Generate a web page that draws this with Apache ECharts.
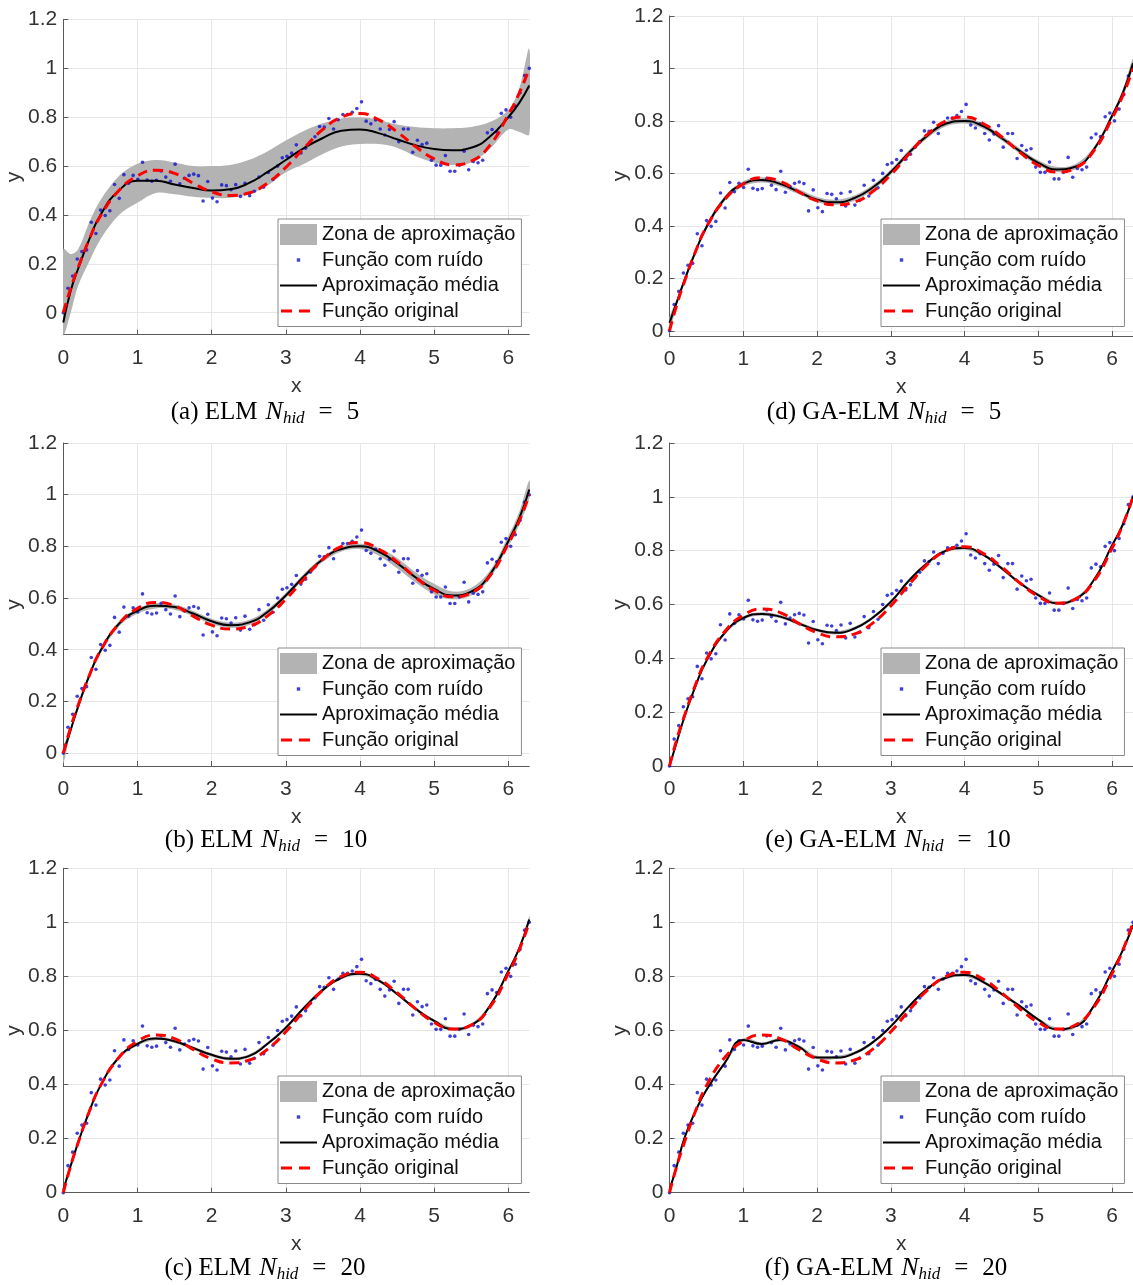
<!DOCTYPE html>
<html><head><meta charset="utf-8">
<script src="https://cdn.jsdelivr.net/npm/echarts@6/dist/echarts.min.js"></script>
<style>html,body{margin:0;padding:0;background:#fff}#c{width:1133px;height:1285px}</style>
</head><body><div id="c"></div>
<script>
// ---------- DATA ----------
const X_NOISE = [0,0.063,0.126,0.188,0.251,0.314,0.377,0.44,0.503,0.565,0.628,0.691,0.754,0.817,0.88,0.942,1.005,1.068,1.131,1.194,1.257,1.319,1.382,1.445,1.508,1.571,1.634,1.696,1.759,1.822,1.885,1.948,2.011,2.073,2.136,2.199,2.262,2.325,2.388,2.45,2.513,2.576,2.639,2.702,2.765,2.827,2.89,2.953,3.016,3.079,3.142,3.204,3.267,3.33,3.393,3.456,3.519,3.581,3.644,3.707,3.77,3.833,3.896,3.958,4.021,4.084,4.147,4.21,4.273,4.335,4.398,4.461,4.524,4.587,4.65,4.712,4.775,4.838,4.901,4.964,5.027,5.089,5.152,5.215,5.278,5.341,5.404,5.466,5.529,5.592,5.655,5.718,5.781,5.843,5.906,5.969,6.032,6.095,6.158,6.22,6.283];
const Y_NOISE = [0.00,0.10,0.15,0.22,0.25,0.257,0.37,0.324,0.42,0.398,0.417,0.525,0.468,0.565,0.53,0.562,0.546,0.616,0.543,0.538,0.542,0.58,0.555,0.538,0.608,0.528,0.55,0.562,0.567,0.561,0.457,0.537,0.469,0.454,0.523,0.52,0.503,0.524,0.476,0.53,0.479,0.497,0.555,0.514,0.574,0.545,0.60,0.634,0.64,0.653,0.687,0.654,0.673,0.70,0.72,0.762,0.76,0.795,0.752,0.79,0.811,0.811,0.82,0.836,0.863,0.784,0.773,0.789,0.752,0.727,0.75,0.782,0.70,0.752,0.752,0.657,0.706,0.688,0.694,0.624,0.604,0.604,0.643,0.579,0.579,0.604,0.661,0.585,0.619,0.614,0.624,0.736,0.75,0.74,0.816,0.83,0.80,0.845,0.90,0.971,1.00];

const X_CURVE = [0,0.1,0.2,0.35,0.5,0.75,1,1.25,1.5,1.75,2,2.25,2.5,2.75,3,3.25,3.5,3.75,4,4.25,4.5,4.75,5,5.25,5.5,5.75,6,6.15,6.283];
const Y_ORIGINAL = [0.00,0.10,0.185,0.30,0.395,0.50,0.56,0.583,0.57,0.53,0.495,0.48,0.49,0.53,0.595,0.675,0.75,0.80,0.815,0.79,0.74,0.68,0.63,0.605,0.62,0.685,0.81,0.90,1.00];

const MEAN_A = [-0.04,0.09,0.18,0.30,0.40,0.50,0.54,0.54,0.525,0.51,0.50,0.505,0.53,0.575,0.625,0.675,0.715,0.745,0.75,0.735,0.71,0.685,0.67,0.665,0.675,0.72,0.80,0.86,0.93];
const LOW_A  = [-0.09,0.00,0.11,0.21,0.30,0.40,0.45,0.49,0.485,0.475,0.47,0.47,0.485,0.52,0.575,0.61,0.65,0.68,0.69,0.69,0.675,0.64,0.615,0.605,0.615,0.67,0.75,0.74,0.73];
const UP_A   = [0.26,0.24,0.26,0.37,0.46,0.56,0.61,0.625,0.615,0.60,0.60,0.605,0.625,0.66,0.705,0.745,0.775,0.795,0.80,0.79,0.77,0.76,0.755,0.755,0.76,0.78,0.83,0.92,1.08];

const MEAN_B = [0.00,0.09,0.18,0.30,0.395,0.50,0.55,0.57,0.565,0.54,0.51,0.495,0.505,0.545,0.61,0.685,0.75,0.79,0.80,0.78,0.735,0.68,0.635,0.61,0.625,0.69,0.82,0.91,1.02];
const LOW_B  = [-0.04,0.08,0.17,0.29,0.385,0.49,0.54,0.56,0.555,0.53,0.50,0.485,0.495,0.535,0.60,0.675,0.74,0.78,0.79,0.765,0.715,0.66,0.615,0.595,0.61,0.675,0.80,0.885,0.985];
const UP_B   = [0.02,0.10,0.19,0.31,0.405,0.51,0.56,0.58,0.575,0.55,0.52,0.505,0.515,0.555,0.62,0.695,0.76,0.80,0.81,0.795,0.755,0.70,0.655,0.625,0.64,0.705,0.84,0.935,1.055];

const MEAN_C = [0.01,0.10,0.185,0.30,0.395,0.50,0.55,0.57,0.56,0.535,0.51,0.495,0.505,0.55,0.61,0.685,0.75,0.795,0.81,0.785,0.735,0.68,0.635,0.605,0.62,0.69,0.82,0.905,1.01];
const LOW_C  = [0.00,0.094,0.179,0.294,0.389,0.494,0.544,0.564,0.554,0.529,0.504,0.489,0.499,0.544,0.604,0.679,0.744,0.789,0.804,0.779,0.729,0.674,0.629,0.599,0.614,0.684,0.814,0.897,0.998];
const UP_C   = [0.02,0.106,0.191,0.306,0.401,0.506,0.556,0.576,0.566,0.541,0.516,0.501,0.511,0.556,0.616,0.691,0.756,0.801,0.816,0.791,0.741,0.686,0.641,0.611,0.626,0.696,0.826,0.913,1.022];

const MEAN_D = [0.03,0.11,0.19,0.30,0.395,0.505,0.56,0.575,0.56,0.53,0.50,0.49,0.505,0.545,0.605,0.68,0.745,0.79,0.80,0.78,0.735,0.685,0.64,0.615,0.625,0.69,0.82,0.91,1.02];
const LOW_D  = [-0.01,0.10,0.18,0.29,0.385,0.495,0.55,0.565,0.55,0.52,0.49,0.48,0.495,0.535,0.595,0.67,0.735,0.78,0.79,0.77,0.725,0.675,0.63,0.605,0.615,0.68,0.81,0.895,1.00];
const UP_D   = [0.05,0.12,0.20,0.31,0.405,0.515,0.57,0.585,0.57,0.54,0.51,0.50,0.515,0.555,0.615,0.69,0.755,0.80,0.81,0.79,0.745,0.695,0.65,0.625,0.635,0.70,0.83,0.925,1.04];

const MEAN_E = [0.00,0.09,0.18,0.295,0.39,0.495,0.55,0.565,0.555,0.53,0.505,0.495,0.51,0.55,0.61,0.69,0.755,0.80,0.81,0.785,0.735,0.68,0.635,0.605,0.62,0.69,0.82,0.90,1.00];
const LOW_E  = [0.00,0.084,0.174,0.289,0.384,0.489,0.544,0.559,0.549,0.524,0.499,0.489,0.504,0.544,0.604,0.684,0.749,0.794,0.804,0.779,0.729,0.674,0.629,0.599,0.614,0.684,0.814,0.893,0.99];
const UP_E   = [0.01,0.096,0.186,0.301,0.396,0.501,0.556,0.571,0.561,0.536,0.511,0.501,0.516,0.556,0.616,0.696,0.761,0.806,0.816,0.791,0.741,0.686,0.641,0.611,0.626,0.696,0.826,0.907,1.01];

const MEAN_F = [0.01,0.10,0.20,0.30,0.38,0.48,0.565,0.55,0.565,0.54,0.50,0.50,0.515,0.555,0.615,0.69,0.755,0.795,0.805,0.78,0.735,0.69,0.64,0.605,0.615,0.69,0.82,0.90,0.99];
const LOW_F  = [0.00,0.094,0.194,0.294,0.374,0.474,0.559,0.544,0.559,0.534,0.494,0.494,0.509,0.549,0.609,0.684,0.749,0.789,0.799,0.774,0.729,0.684,0.634,0.599,0.609,0.684,0.814,0.893,0.98];
const UP_F   = [0.02,0.106,0.206,0.306,0.386,0.486,0.571,0.556,0.571,0.546,0.506,0.506,0.521,0.561,0.621,0.696,0.761,0.801,0.811,0.786,0.741,0.696,0.646,0.611,0.621,0.696,0.826,0.907,1.0];

const CAPTION_TAGS = ['(a) ELM','(b) ELM','(c) ELM','(d) GA-ELM','(e) GA-ELM','(f) GA-ELM'];
const CAPTION_N = ['5','10','20','5','10','20'];
const LEGEND_NAMES = ['Zona de aproximação','Função com ruído','Aproximação média','Função original'];
const X_TICKS = [0,1,2,3,4,5,6];

// ---------- LAYOUT ----------
const LAYOUT = [
 {left:63.3, width:466,   top:19.5,  bottom:334.7,  yMin:-0.09, lgL:278, lgT:219,  capX:265, capY:412},
 {left:63.3, width:466,   top:443,   bottom:766,    yMin:-0.05, lgL:278, lgT:648,  capX:266, capY:840},
 {left:63.3, width:466,   top:868.2, bottom:1192.7, yMin:0,     lgL:278, lgT:1076, capX:265, capY:1268},
 {left:669.5,width:463.9, top:16,    bottom:336,    yMin:-0.02, lgL:881, lgT:219,  capX:884, capY:412},
 {left:669.5,width:463.9, top:443,   bottom:766,    yMin:0,     lgL:881, lgT:648,  capX:888, capY:840},
 {left:669.5,width:463.9, top:868.2, bottom:1192.7, yMin:0,     lgL:881, lgT:1076, capX:886, capY:1268}
];
const MEANS = [MEAN_A,MEAN_B,MEAN_C,MEAN_D,MEAN_E,MEAN_F];
const LOWS = [LOW_A,LOW_B,LOW_C,LOW_D,LOW_E,LOW_F];
const UPS = [UP_A,UP_B,UP_C,UP_D,UP_E,UP_F];

const FONT = 'Liberation Sans, Arial, Helvetica, sans-serif';
const SERIF = 'Liberation Serif, Times New Roman, serif';
const AXIS_COLOR = '#5a5a5a';
const TEXT_COLOR = '#333333';
const GRID_COLOR = '#e6e6e6';
const BAND_COLOR = '#b3b3b3';

const grids = [], xAxes = [], yAxes = [], series = [], legends = [], graphics = [];

LAYOUT.forEach((L, i) => {
  grids.push({left:L.left, top:L.top, width:L.width, height:L.bottom - L.top, containLabel:false});
  xAxes.push({
    type:'value', gridIndex:i, min:0, max:6.283185, interval:1,
    name:'x', nameLocation:'middle', nameGap:41,
    nameTextStyle:{fontFamily:FONT, fontSize:21, color:TEXT_COLOR},
    axisLine:{onZero:false, lineStyle:{color:AXIS_COLOR, width:1}},
    axisTick:{inside:true, length:5, lineStyle:{color:AXIS_COLOR}},
    axisLabel:{margin:13, fontFamily:FONT, fontSize:21, color:TEXT_COLOR, showMaxLabel:false,
      formatter: v => (X_TICKS.indexOf(Math.round(v)) >= 0 && Math.abs(v - Math.round(v)) < 1e-6) ? String(Math.round(v)) : ''},
    splitLine:{show:true, showMaxLine:false, lineStyle:{color:GRID_COLOR, width:1}}
  });
  yAxes.push({
    type:'value', gridIndex:i, min:L.yMin, max:1.2, splitNumber:6,
    name:'y', nameLocation:'middle', nameGap:38, nameRotate:90,
    nameTextStyle:{fontFamily:FONT, fontSize:21, color:TEXT_COLOR},
    axisLine:{show:true, onZero:false, lineStyle:{color:AXIS_COLOR, width:1}},
    axisTick:{show:true, inside:true, length:5, lineStyle:{color:AXIS_COLOR}},
    axisLabel:{margin:6, fontFamily:FONT, fontSize:21, color:TEXT_COLOR,
      formatter: v => { const r = Math.round(v * 5) / 5; return Math.abs(v - r) < 1e-6 ? String(+r.toFixed(1)) : ''; }},
    splitLine:{show:true, showMinLine:false, lineStyle:{color:GRID_COLOR, width:1}}
  });
  const low = LOWS[i], up = UPS[i];
  series.push({
    type:'custom', name:LEGEND_NAMES[0], xAxisIndex:i, yAxisIndex:i, clip:true, z:1, silent:true,
    itemStyle:{color:BAND_COLOR},
    data: X_CURVE.map((x, k) => [x, low[k], up[k]]),
    encode:{x:0, y:[1,2]},
    renderItem: (params, api) => {
      if (params.dataIndex !== 0) return null;
      const pts = [];
      for (let k = 0; k < X_CURVE.length; k++) pts.push(api.coord([X_CURVE[k], up[k]]));
      for (let k = X_CURVE.length - 1; k >= 0; k--) pts.push(api.coord([X_CURVE[k], low[k]]));
      return {type:'polygon', shape:{points:pts, smooth:0.35}, style:{fill:BAND_COLOR, stroke:null}};
    }
  });
  series.push({
    type:'scatter', name:LEGEND_NAMES[1], xAxisIndex:i, yAxisIndex:i, symbol:'circle', symbolSize:3.6,
    itemStyle:{color:'#1010d0'}, z:2, silent:true,
    data: X_NOISE.map((x, k) => [x, Y_NOISE[k]])
  });
  series.push({
    type:'line', name:LEGEND_NAMES[2], xAxisIndex:i, yAxisIndex:i, symbol:'none', smooth:true, z:3, silent:true,
    itemStyle:{color:'#000000'}, lineStyle:{color:'#000000', width:2},
    data: X_CURVE.map((x, k) => [x, MEANS[i][k]])
  });
  series.push({
    type:'line', name:LEGEND_NAMES[3], xAxisIndex:i, yAxisIndex:i, symbol:'none', smooth:true, z:4, silent:true,
    itemStyle:{color:'#ff0000'}, lineStyle:{color:'#ff0000', width:3, type:[10,6]},
    data: X_CURVE.map((x, k) => [x, Y_ORIGINAL[k]])
  });
  legends.push({
    orient:'vertical', left:L.lgL, top:L.lgT, z:10, selectedMode:false,
    itemWidth:37, itemHeight:21, itemGap:4.5, padding:[5,6,5,2],
    backgroundColor:'#ffffff', borderColor:'#8a8a8a', borderWidth:1, borderRadius:0,
    textStyle:{fontFamily:FONT, fontSize:20, color:'#111111'},
    data:[
      {name:LEGEND_NAMES[0], icon:'rect', itemStyle:{color:BAND_COLOR, borderWidth:0}},
      {name:LEGEND_NAMES[1], icon:'path://M0,0M37,21M16.8,8.8h3.4v3.4h-3.4z', itemStyle:{color:'#1010d0', borderWidth:0}},
      {name:LEGEND_NAMES[2], icon:'path://M0,0M37,21M0,9.5h37v2h-37z', itemStyle:{color:'#000000', borderWidth:0}},
      {name:LEGEND_NAMES[3], icon:'path://M0,0M37,21M1,9h11v3h-11zM19,9h11v3h-11z', itemStyle:{color:'#ff0000', borderWidth:0}}
    ]
  });
  graphics.push({
    type:'text', x:L.capX, y:L.capY, z:20,
    style:{
      text:'{a|' + CAPTION_TAGS[i] + '}{g0| }{n|N}{s|hid}{g1| }{m|=}{g2| }{m|' + CAPTION_N[i] + '}',
      align:'center', verticalAlign:'middle', fill:'#000',
      rich:{
        a:{fontFamily:SERIF, fontSize:25, lineHeight:30, fill:'#000'},
        g0:{fontFamily:SERIF, fontSize:24, lineHeight:30, width:8},
        n:{fontFamily:SERIF, fontSize:26, fontStyle:'italic', lineHeight:30, fill:'#000'},
        s:{fontFamily:SERIF, fontSize:17, fontStyle:'italic', lineHeight:17, verticalAlign:'bottom', fill:'#000'},
        g1:{fontFamily:SERIF, fontSize:24, lineHeight:30, width:14},
        g2:{fontFamily:SERIF, fontSize:24, lineHeight:30, width:14},
        m:{fontFamily:SERIF, fontSize:25, lineHeight:30, fill:'#000'}
      }
    }
  });
});

const chart = echarts.init(document.getElementById('c'), null, {renderer:'canvas', width:1133, height:1285});
chart.setOption({
  animation:false,
  backgroundColor:'#ffffff',
  grid:grids, xAxis:xAxes, yAxis:yAxes, legend:legends, series:series, graphic:graphics
});
</script></body></html>
